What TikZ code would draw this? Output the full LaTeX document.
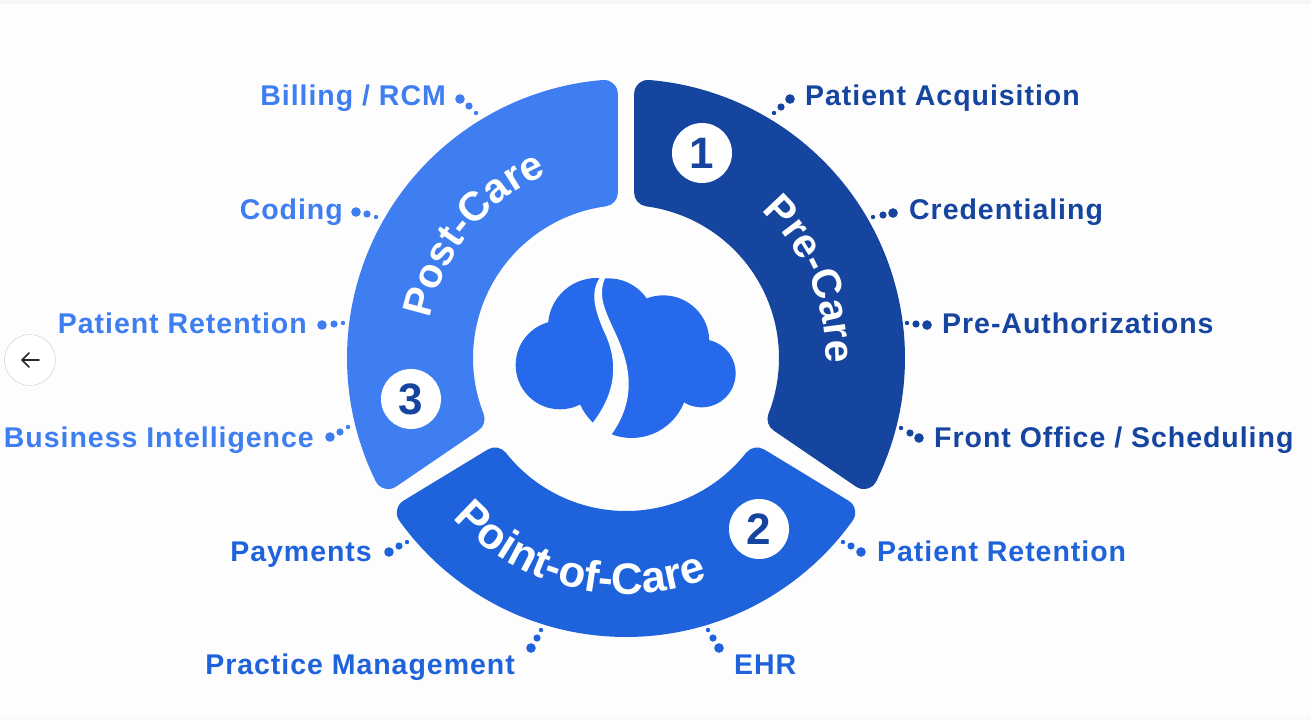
\documentclass[tikz,border=0pt]{standalone}
\usepackage{fontspec}
\setmainfont{Liberation Sans}
\newfontfamily\labelfont[LetterSpace=3.4]{Liberation Sans}
\usetikzlibrary{decorations.text}
\definecolor{preblue}{HTML}{15459F}
\definecolor{pointblue}{HTML}{1E63DC}
\definecolor{postblue}{HTML}{3F7EF0}
\definecolor{cloudblue}{HTML}{2669EA}
\definecolor{pagewhite}{HTML}{FDFDFE}
\tikzset{
    itemlabel/.style={font=\fontsize{28.5}{28.5}\labelfont\bfseries, inner sep=0pt},
    numcircle/.style={circle, fill=white, minimum size=60pt, inner sep=0pt, font=\fontsize{44}{44}\selectfont\bfseries, text=preblue},
}
% ring segment, corners rounded by the thick stroke
\newcommand{\ringpiece}[5]{%
    \fill[#5, draw=#5, line width=28pt, line join=round]
        (#1:265) arc (#1:#2:265) -- (#3:167) arc (#3:#4:167) -- cycle;
}
\newcommand{\dotrow}[7]{%
    \fill[#7] (#1,#2) circle (4.8);
    \fill[#7] (#3,#4) circle (3.6);
    \fill[#7] (#5,#6) circle (2.2);
}
\begin{document}
\begin{tikzpicture}[x=1pt,y=-1pt]
    \useasboundingbox (0,0) rectangle (1311,720);
    \fill[pagewhite] (0,0) rectangle (1311,720);
    \fill[black!4] (0,0) rectangle (1311,4);
    \fill[black!2] (0,715) rectangle (1311,720);

    \begin{scope}[shift={(626,358)},y=1pt]
        \ringpiece{85.2}{-26.2}{-21.4}{82.4}{preblue}
        \ringpiece{215.7}{324.3}{321.7}{218.3}{pointblue}
        \ringpiece{94.8}{206.2}{201.4}{97.6}{postblue}
        % titles on the ring
        \path[postaction={decorate}, decoration={text along path, text align=center,
            text={|\fontsize{41}{41}\selectfont\bfseries\color{white}|Pre-Care}}]
            (73:200) arc (73:-27:200);
        \path[postaction={decorate}, decoration={text along path, text align=center,
            text={|\fontsize{41}{41}\selectfont\bfseries\color{white}|Post-Care}}]
            (191:200) arc (191:91:200);
        \path[postaction={decorate}, decoration={text along path, text align=center,
            text={|\fontsize{44}{44}\selectfont\bfseries\color{white}|Point-of-Care}}]
            (206.5:236) arc (206.5:306.5:236);
    \end{scope}

    \node[numcircle] (numone) at (702,153) {1};
    \node[numcircle] (numtwo) at (759,529) {2};
    \node[numcircle] (numthree) at (411,399) {3};

    % cloud, zoomed coordinates
    \begin{scope}[shift={(480,250)},x=0.3333pt,y=-0.3333pt]
        \fill[cloudblue] (240,345) circle (133);
        \fill[cloudblue] (350,230) circle (146);
        \fill[cloudblue] (385,225) circle (140);
        \fill[cloudblue] (550,274) circle (138);
        \fill[cloudblue] (665,370) circle (102);
        \fill[cloudblue] (455,395) circle (169);
        \fill[pagewhite] (358,70) -- (358,85)
            .. controls (330,130) and (345,180) .. (370,240)
            .. controls (400,300) and (430,400) .. (337,520)
            -- (320,570) -- (380,600) -- (395,553)
            .. controls (490,420) and (430,300) .. (395,225)
            .. controls (370,170) and (355,130) .. (375,85)
            -- (375,70) -- cycle;
    \end{scope}

    % right side labels
    \node[itemlabel, text=preblue, anchor=base west] (acquire) at (805,105) {Patient Acquisition};
    \node[itemlabel, text=preblue, anchor=base west] (credential) at (909,219) {Credentialing};
    \node[itemlabel, text=preblue, anchor=base west] (preauth) at (942,333) {Pre-Authorizations};
    \node[itemlabel, text=preblue, anchor=base west] (frontoffice) at (934,447) {Front Office / Scheduling};
    \node[itemlabel, text=pointblue, anchor=base west] (retainr) at (877,561) {Patient Retention};
    \node[itemlabel, text=pointblue, anchor=base west] (ehr) at (734,674) {EHR};
    % left side labels
    \node[itemlabel, text=pointblue, anchor=base east] (practice) at (515,674) {Practice Management};
    \node[itemlabel, text=pointblue, anchor=base east] (payments) at (372,561) {Payments};
    \node[itemlabel, text=postblue, anchor=base east] (business) at (314,447) {Business Intelligence};
    \node[itemlabel, text=postblue, anchor=base east] (retainl) at (307,333) {Patient Retention};
    \node[itemlabel, text=postblue, anchor=base east] (coding) at (343,219) {Coding};
    \node[itemlabel, text=postblue, anchor=base east] (billing) at (446,105) {Billing / RCM};

    \dotrow{790}{99}{781}{107}{774}{113}{preblue}
    \dotrow{893}{213}{883}{215}{873}{217}{preblue}
    \dotrow{927}{325}{916}{324}{907}{323}{preblue}
    \dotrow{919}{438}{910}{433}{901}{428}{preblue}
    \dotrow{861}{552}{851}{546}{843}{542}{pointblue}
    \dotrow{719}{648}{713}{638}{708}{630}{pointblue}
    \dotrow{531}{648}{537}{638}{541}{630}{pointblue}
    \dotrow{389}{552}{399}{546}{407}{542}{pointblue}
    \dotrow{330}{437}{340}{432}{348}{427}{postblue}
    \dotrow{322}{325}{334}{324}{343}{323}{postblue}
    \dotrow{356}{212}{367}{214}{376}{217}{postblue}
    \dotrow{460}{99}{469}{106}{476}{113}{postblue}

    % back button
    \node[circle, draw=black!20, fill=white, minimum size=51pt, inner sep=0pt] (backbtn) at (30,360) {};
    \draw[black!85, line width=1.6pt, line cap=round, line join=round]
        (39,360) -- (22,360) (29,353) -- (22,360) -- (29,367);
\end{tikzpicture}
\end{document}
